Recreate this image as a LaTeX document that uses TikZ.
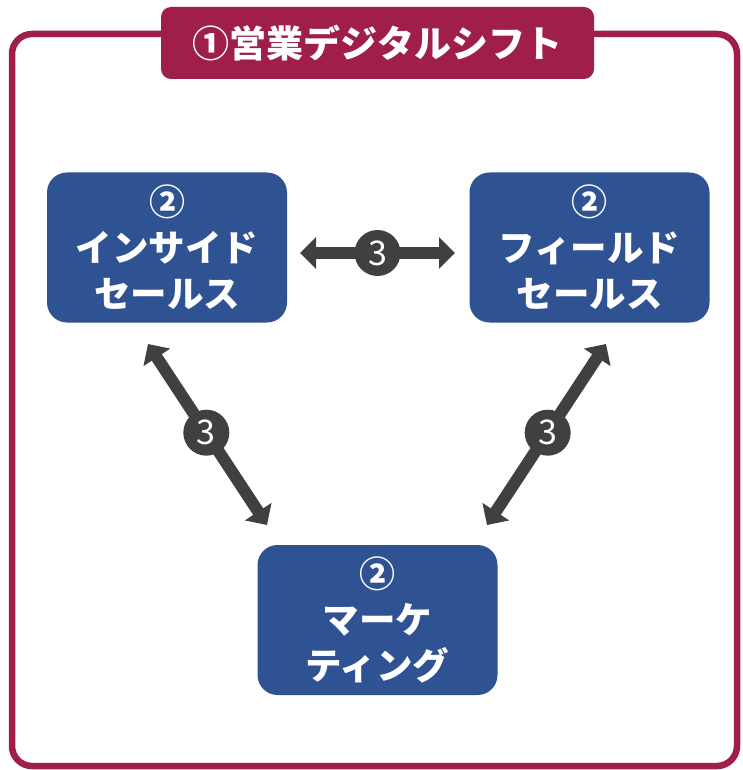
\documentclass[tikz,border=0pt]{standalone}
\usepackage{fontspec}
\newfontfamily\jpfont{Noto Sans CJK JP}
\usetikzlibrary{arrows.meta}
\definecolor{crimson}{HTML}{A01F48}
\definecolor{boxblue}{HTML}{2F5292}
\definecolor{arrgray}{HTML}{404040}
\tikzset{
  bluebox/.style={fill=boxblue, rounded corners=20pt, minimum width=240pt, minimum height=150pt,
    inner sep=0pt, align=center, text=white, font=\jpfont\bfseries\fontsize{36.5}{46}\selectfont},
  dblarrow/.style={draw=arrgray, line width=12pt,
    {Triangle[width=31pt,length=16pt]}-{Triangle[width=31pt,length=16pt]}},
  numcircle/.style={circle, fill=arrgray, minimum size=46pt, inner sep=0pt, text=white,
    font=\jpfont\fontsize{34}{34}\selectfont},
  circnum/.style={}
}
\newcommand{\circtwo}{{\fontsize{36}{40}\selectfont ②}}
\begin{document}
\begin{tikzpicture}[x=1pt,y=-1pt]
\useasboundingbox (0,0) rectangle (742,770);
% outer frame
\draw[crimson, line width=6.5pt, rounded corners=20pt] (12,34) rectangle (737,766);
% title
\node[fill=crimson, rounded corners=10pt, minimum width=433pt, minimum height=72pt, inner sep=0pt,
  text=white, font=\jpfont\bfseries\fontsize{37}{40}\selectfont] (title) at (377.5,43) {①営業デジタルシフト};
% boxes
\node[bluebox] (ins) at (167,247.5) {\circtwo\\インサイド\\セールス};
\node[bluebox] (fld) at (589.5,247.5) {\circtwo\\フィールド\\セールス};
\node[bluebox] (mkt) at (377.5,620) {\circtwo\\マーケ\\ティング};
% arrow end points
\coordinate (h1) at (300,253);
\coordinate (h2) at (455,253);
\coordinate (l1) at (148,344);
\coordinate (l2) at (267,525);
\coordinate (r1) at (606,344);
\coordinate (r2) at (487,525);
\draw[dblarrow] (h1) -- (h2) node[numcircle, pos=0.5] (c1) {3};
\draw[dblarrow] (l1) -- (l2) node[numcircle, pos=0.49] (c2) {3};
\draw[dblarrow] (r1) -- (r2) node[numcircle, pos=0.49] (c3) {3};
\end{tikzpicture}
\end{document}
